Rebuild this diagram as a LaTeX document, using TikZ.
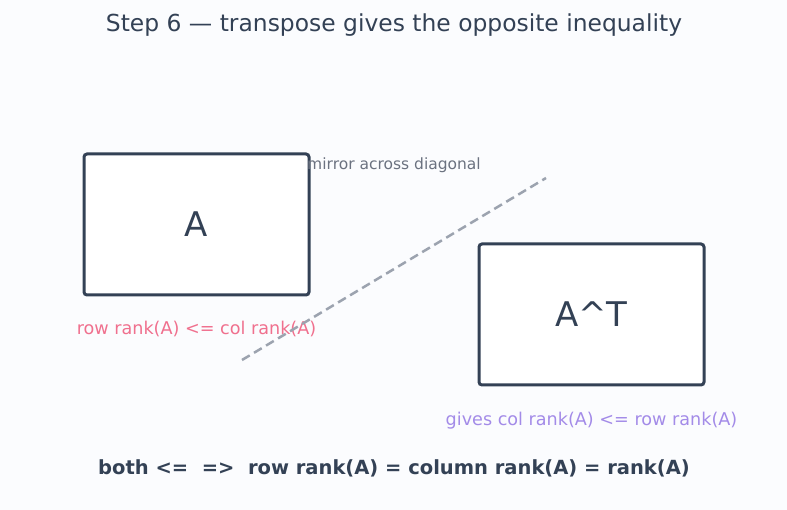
\documentclass[tikz,border=0pt]{standalone}
\usepackage{fontspec}
\setmainfont{DejaVu Sans}
\usetikzlibrary{positioning}
\definecolor{ink}{HTML}{334155}
\definecolor{bgc}{HTML}{FBFCFE}
\definecolor{mute}{HTML}{6B7280}
\definecolor{diag}{HTML}{9CA3AF}
\definecolor{pinkc}{HTML}{F0708E}
\definecolor{lilac}{HTML}{A38BE8}
\tikzstyle{mat} = [draw=ink, line width=3pt, rounded corners=3pt, fill=white, minimum width=225pt, minimum height=141pt, text=ink, font=\fontsize{34}{40}\selectfont]
\tikzstyle{note} = [font=\fontsize{17.6}{21}\selectfont]

\begin{document}
\begin{tikzpicture}[x=1pt,y=-1pt]

\fill[bgc] (0,0) rectangle (787,510);
\useasboundingbox (0,0) rectangle (787,510);

\node[text=ink, font=\fontsize{23.4}{28}\selectfont] (title) at (394,25) {Step 6 --- transpose gives the opposite inequality};

\node[mat] (A) at (196.5,224.5) {A};
\node[mat] (AT) at (591.5,314.5) {A\^{}T};

\node[note, text=pinkc, below=21pt of A] (rowle) {row rank(A) <= col rank(A)};
\node[note, text=lilac, below=22pt of AT] (colle) {gives col rank(A) <= row rank(A)};

\coordinate (d1) at (242,360);
\coordinate (d2) at (546,178);
\draw[diag, line width=2.5pt, dash pattern=on 9pt off 5pt] (d1) -- (d2);
\node[text=mute, font=\fontsize{15.5}{18}\selectfont] (mirror) at (394,165) {mirror across diagonal};

\node[text=ink, font=\bfseries\fontsize{19.5}{23}\selectfont] (both) at (394,468) {both <=\ \ =>\ \ row rank(A) = column rank(A) = rank(A)};

\end{tikzpicture}
\end{document}
